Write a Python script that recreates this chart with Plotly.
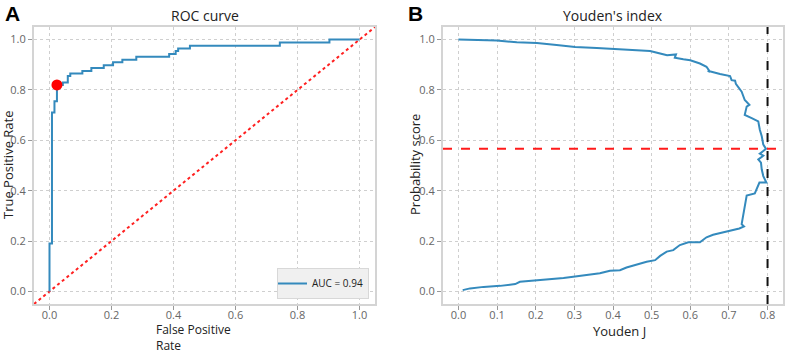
import plotly.graph_objects as go

# ROC curve (step corners)
fpr = [0, 0, 0.008, 0.016, 0.024, 0.043, 0.059, 0.067, 0.106, 0.135, 0.175, 0.205,
       0.235, 0.28, 0.386, 0.407, 0.415, 0.453, 0.743, 0.903, 1.0]
tpr = [0, 0.19, 0.71, 0.755, 0.82, 0.83, 0.855, 0.865, 0.875, 0.887, 0.898, 0.91,
       0.92, 0.932, 0.943, 0.955, 0.965, 0.976, 0.988, 1.0, 1.0]
opt_fpr = [0.024]
opt_tpr = [0.82]
auc_label = "AUC = 0.94"

# Youden's index curve
youden_j = [0.0, 0.099, 0.151, 0.203, 0.254, 0.302, 0.358, 0.427, 0.496, 0.522,
            0.54, 0.563, 0.56, 0.582, 0.6, 0.625, 0.642, 0.651, 0.645, 0.677, 0.69,
            0.703, 0.707, 0.716, 0.718, 0.724, 0.733, 0.741, 0.753, 0.746, 0.741,
            0.759, 0.776, 0.780, 0.785, 0.789, 0.796, 0.780, 0.789, 0.776, 0.783,
            0.785, 0.789, 0.797, 0.779, 0.767, 0.746, 0.733, 0.739, 0.727, 0.703,
            0.681, 0.659, 0.642, 0.625, 0.595, 0.573, 0.556, 0.539, 0.522, 0.509,
            0.487, 0.461, 0.435, 0.418, 0.392, 0.366, 0.328, 0.302, 0.272, 0.211,
            0.159, 0.147, 0.108, 0.065, 0.03, 0.011]
prob_score = [1.0, 0.996, 0.989, 0.986, 0.979, 0.971, 0.967, 0.962, 0.955, 0.945,
              0.938, 0.941, 0.928, 0.922, 0.918, 0.905, 0.892, 0.872, 0.876, 0.863,
              0.859, 0.855, 0.839, 0.837, 0.824, 0.813, 0.793, 0.760, 0.741, 0.734,
              0.701, 0.688, 0.675, 0.642, 0.616, 0.583, 0.566, 0.547, 0.539, 0.524,
              0.511, 0.484, 0.458, 0.432, 0.432, 0.389, 0.381, 0.267, 0.258, 0.25,
              0.241, 0.234, 0.225, 0.215, 0.195, 0.195, 0.184, 0.164, 0.158, 0.141,
              0.124, 0.118, 0.108, 0.095, 0.084, 0.082, 0.072, 0.066, 0.059, 0.053,
              0.046, 0.038, 0.029, 0.022, 0.018, 0.012, 0.005]
best_j = 0.8
best_threshold = 0.567

xt_roc = [0.0, 0.2, 0.4, 0.6, 0.8, 1.0]
yt = [0.0, 0.2, 0.4, 0.6, 0.8, 1.0]
xt_j = [0.0, 0.1, 0.2, 0.3, 0.4, 0.5, 0.6, 0.7, 0.8]

BLUE = "#348ABD"
FONT = "Open Sans"
W, H = 785, 354

fig = go.Figure()

# diagonal
fig.add_trace(go.Scatter(x=[-0.05, 1.05], y=[-0.05, 1.05], mode="lines",
                         line=dict(color="#ff2020", width=2, dash="dot"),
                         showlegend=False, xaxis="x", yaxis="y"))
fig.add_trace(go.Scatter(x=fpr, y=tpr, mode="lines", line_shape="hv",
                         line=dict(color=BLUE, width=2), name=auc_label,
                         showlegend=True, xaxis="x", yaxis="y"))
fig.add_trace(go.Scatter(x=opt_fpr, y=opt_tpr, mode="markers",
                         marker=dict(color="#ff0000", size=11), showlegend=False,
                         xaxis="x", yaxis="y"))

fig.add_trace(go.Scatter(x=youden_j, y=prob_score, mode="lines",
                         line=dict(color=BLUE, width=2), showlegend=False,
                         xaxis="x2", yaxis="y2"))
fig.add_trace(go.Scatter(x=[-0.04, 0.84], y=[best_threshold, best_threshold], mode="lines",
                         line=dict(color="#ff1a1a", width=2, dash="dash"),
                         showlegend=False, xaxis="x2", yaxis="y2"))
fig.add_trace(go.Scatter(x=[best_j, best_j], y=[-0.05, 1.05], mode="lines",
                         line=dict(color="#111111", width=2, dash="dash"),
                         showlegend=False, xaxis="x2", yaxis="y2"))

ax_common = dict(showline=True, mirror=True, linecolor="#d4d4d4", linewidth=2,
                 showgrid=True, gridcolor="#cfcfcf", griddash="dot", gridwidth=1,
                 zeroline=False, ticks="outside", ticklen=4, tickcolor="#999999",
                 automargin=False,
                 tickfont=dict(family=FONT, size=11, color="#666666"))
x_extra = dict(ticklabelstandoff=-4)

yd = [1 - 304 / H, 1 - 27 / H]
fig.update_layout(
    width=W, height=H, margin=dict(l=0, r=0, t=0, b=0, autoexpand=False),
    paper_bgcolor="white", plot_bgcolor="white",
    font=dict(family=FONT),
    xaxis=dict(domain=[34 / W, 375 / W], range=[-0.05, 1.05], tickvals=xt_roc,
               ticktext=[f"{v:.1f}" for v in xt_roc], anchor="y", **ax_common, **x_extra),
    yaxis=dict(domain=yd, range=[-0.05, 1.05], tickvals=yt,
               ticktext=[f"{v:.1f}" for v in yt], anchor="x", **ax_common),
    xaxis2=dict(domain=[443 / W, 783 / W], range=[-0.04, 0.84], tickvals=xt_j,
                ticktext=[f"{v:.1f}" for v in xt_j], anchor="y2", **ax_common, **x_extra),
    yaxis2=dict(domain=yd, range=[-0.05, 1.05], tickvals=yt,
                ticktext=[f"{v:.1f}" for v in yt], anchor="x2", **ax_common),
    legend=dict(x=369 / W, y=1 - 299 / H, xanchor="right", yanchor="bottom",
                bgcolor="#f0f0f0", bordercolor="#d8d8d8", borderwidth=1,
                indentation=-6,
                font=dict(family=FONT, size=10, color="#222222")),
    showlegend=True,
)

def ann(text, x, y, size, bold=False, angle=0, align="center", color="#222222", fam=FONT):
    fig.add_annotation(text=f"<b>{text}</b>" if bold else text, x=x / W, y=1 - y / H,
                       xref="paper", yref="paper", showarrow=False, textangle=angle,
                       xanchor="center", yanchor="middle", align=align,
                       font=dict(family=fam, size=size, color=color))

ann("A", 12, 14, 21, bold=True, color="black", fam="Liberation Sans")
ann("B", 415, 14, 21, bold=True, color="black", fam="Liberation Sans")
ann("ROC curve", 205, 15, 14)
ann("Youden's index", 613, 15, 14)
ann("False Positive<br>Rate", 193, 337.5, 12, align="left")
ann("Youden J", 619, 331, 13)
ann("True Positive Rate", 8, 165, 13, angle=-90)
ann("Probability score", 415, 165, 13, angle=-90)

fig.write_html("out.html", config={"displayModeBar": False},
               post_script="document.body.style.margin='0';document.body.style.overflow='hidden';")
